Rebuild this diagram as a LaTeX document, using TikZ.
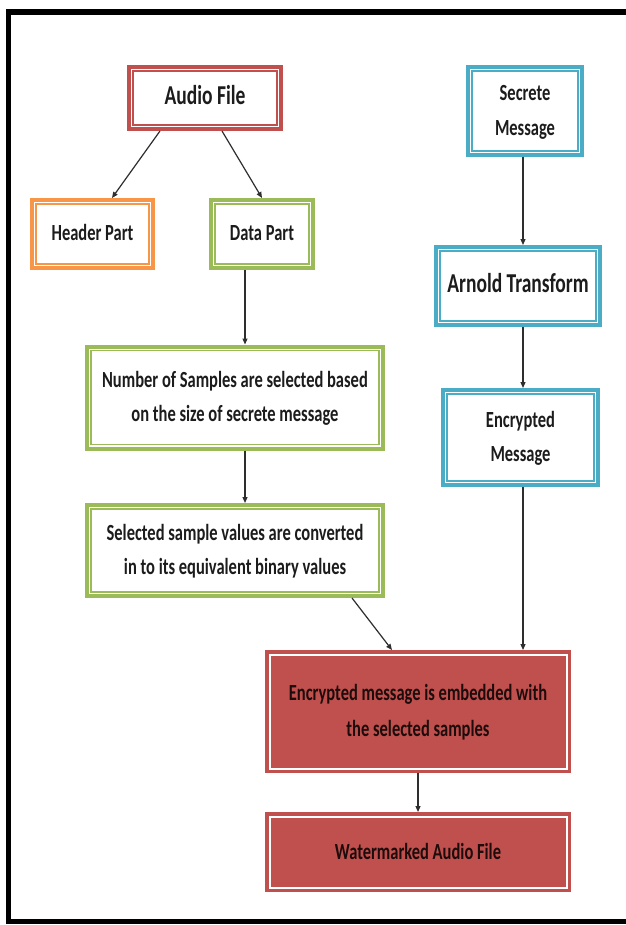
\documentclass[tikz,border=0pt]{standalone}
\usepackage{fontspec}
\setmainfont{Carlito}
\usepackage{graphicx}
\usetikzlibrary{arrows.meta}
\definecolor{cred}{HTML}{C0504D}
\definecolor{corange}{HTML}{F79646}
\definecolor{cgreen}{HTML}{9BBB59}
\definecolor{cblue}{HTML}{4BACC6}
\definecolor{ctext}{HTML}{1C1C1C}
\definecolor{carrow}{HTML}{2E2E2E}
\newcommand\tx[1]{\scalebox{1}[1.4]{\begin{tabular}{@{}c@{}}#1\end{tabular}}}
\newcommand\innerline[4]{\draw[draw=#2,line width=#4] ([shift={(#3,-#3)}]#1.north west) rectangle ([shift={(-#3,#3)}]#1.south east);}
\tikzset{
  obox/.style={rectangle, draw=#1, fill=white, line width=4pt, inner sep=0pt,
    font=\bfseries\fontsize{16.5}{24.5}\selectfont, text=ctext},
  rbox/.style={rectangle, draw=cred, fill=cred, line width=4pt, inner sep=0pt,
    font=\bfseries\fontsize{16.5}{25.5}\selectfont, text=black!85!cred},
  bigtext/.style={font=\bfseries\fontsize{19.5}{24}\selectfont},
  arr/.style={draw=carrow, line width=1.2pt, -{Triangle[length=6pt,width=5pt]}}
}
\begin{document}
\begin{tikzpicture}[x=1pt,y=-1pt]
\useasboundingbox (0,0) rectangle (625,925);
\fill[white] (0,0) rectangle (625,925);
\draw[line width=5.5pt, black, line join=miter] (630,12) -- (8.5,12) -- (8.5,921.5) -- (630,921.5);

\node[obox=cred, bigtext, minimum width=152pt, minimum height=62pt] (audio) at (205,98) {\tx{Audio File}};
\node[obox=corange, minimum width=121pt, minimum height=68pt] (header) at (92.5,234) {\tx{Header Part}};
\node[obox=cgreen, minimum width=102pt, minimum height=68pt] (data) at (262,234) {\tx{Data Part}};
\node[obox=cblue, minimum width=114pt, minimum height=88pt] (secret) at (525,111) {\tx{Secrete\\Message}};
\node[obox=cblue, bigtext, minimum width=164pt, minimum height=78pt] (arnold) at (518,286) {\raisebox{5pt}{\tx{Arnold Transform}}};
\node[obox=cblue, minimum width=155pt, minimum height=95pt] (encm) at (520.5,437.5) {\tx{Encrypted\\Message}};
\node[obox=cgreen, minimum width=296pt, minimum height=102pt] (number) at (235,397.5) {\tx{Number of Samples are selected based\\on the size of secrete message}};
\node[obox=cgreen, minimum width=296pt, minimum height=91pt] (selected) at (235,550.5) {\tx{Selected sample values are converted\\in to its equivalent binary values}};
\node[rbox, minimum width=302pt, minimum height=119pt] (embed) at (418,711.5) {\tx{Encrypted message is embedded with\\the selected samples}};
\node[rbox, minimum width=302pt, minimum height=76pt] (water) at (418,852) {\tx{Watermarked Audio File}};

\innerline{audio}{cred}{6pt}{1.2pt}
\innerline{header}{corange}{6pt}{1.2pt}
\innerline{data}{cgreen}{6pt}{1.2pt}
\innerline{secret}{cblue}{6pt}{1.2pt}
\innerline{arnold}{cblue}{6pt}{1.2pt}
\innerline{encm}{cblue}{6pt}{1.2pt}
\innerline{number}{cgreen}{6pt}{1.2pt}
\innerline{selected}{cgreen}{6pt}{1.2pt}
\innerline{embed}{white}{4.5pt}{2pt}
\innerline{water}{white}{4.5pt}{2pt}

\draw[arr] ([xshift=-45pt]audio.south) -- ([xshift=19.5pt]header.north);
\draw[arr] ([xshift=17pt]audio.south) -- (data.north);
\draw[arr] ([xshift=-17pt]data.south) -- ([xshift=10pt]number.north);
\draw[arr] ([xshift=10pt]number.south) -- ([xshift=10pt]selected.north);
\draw[arr] ([xshift=117pt]selected.south) -- ([xshift=-26pt]embed.north);
\draw[arr] ([xshift=-2pt]secret.south) -- ([xshift=5pt]arnold.north);
\draw[arr] ([xshift=5pt]arnold.south) -- ([xshift=2.5pt]encm.north);
\draw[arr] ([xshift=2.5pt]encm.south) -- ([xshift=105pt]embed.north);
\draw[arr] (embed.south) -- (water.north);
\end{tikzpicture}
\end{document}
